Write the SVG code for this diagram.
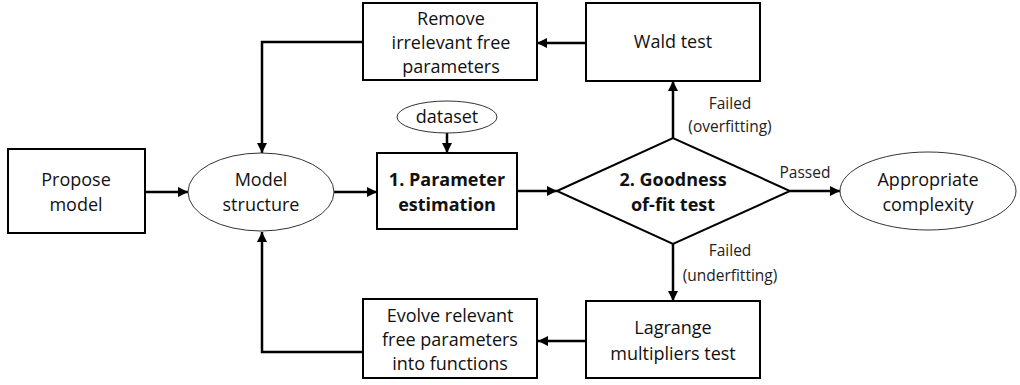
<svg xmlns="http://www.w3.org/2000/svg" width="1020" height="385" viewBox="0 0 1020 385">
  <style>
    .box { fill: #fff; stroke: #000; stroke-width: 2; }
    .ell { fill: #fff; stroke: #333; stroke-width: 1; }
    .t { font-family: "Open Sans", "Liberation Sans", Arial, sans-serif; font-size: 18px; fill: #111; text-anchor: middle; }
    .b { font-weight: bold; }
    .lbl { font-family: "Open Sans", "Liberation Sans", Arial, sans-serif; font-size: 15.5px; fill: #222; text-anchor: middle; }
    .c { fill: none; stroke: #000; stroke-width: 2.5; marker-end: url(#ah); }
  </style>
  <defs>
    <marker id="ah" viewBox="0 0 10 10" refX="10" refY="5" markerWidth="4" markerHeight="4" markerUnits="strokeWidth" orient="auto">
      <path d="M0,0 L10,5 L0,10 z" fill="#000"/>
    </marker>
  </defs>

  <g id="connectors">
    <path class="c" d="M145,192 H188"/>
    <path class="c" d="M334,192 H377"/>
    <path class="c" d="M447,133 V153"/>
    <path class="c" d="M517,191 H557"/>
    <path class="c" d="M790,191 H840"/>
    <path class="c" d="M673,138 V81"/>
    <path class="c" d="M673,244 V301"/>
    <path class="c" d="M586,43 H537"/>
    <path class="c" d="M586,341 H538"/>
    <path class="c" d="M363,42 H262 V153"/>
    <path class="c" d="M363,352 H262 V232"/>
  </g>

  <g id="propose">
    <rect class="box" x="8" y="149" width="137" height="84"/>
    <text class="t" x="76" y="186">Propose</text>
    <text class="t" x="76" y="211">model</text>
  </g>

  <g id="model-structure">
    <ellipse class="ell" cx="261" cy="192" rx="73" ry="39"/>
    <text class="t" x="261" y="186">Model</text>
    <text class="t" x="261" y="211">structure</text>
  </g>

  <g id="dataset">
    <ellipse class="ell" cx="447" cy="117" rx="50" ry="16"/>
    <text class="t" x="447" y="123">dataset</text>
  </g>

  <g id="parameter-estimation">
    <rect class="box" x="377" y="153" width="140" height="76"/>
    <text class="t b" x="447" y="186">1. Parameter</text>
    <text class="t b" x="447" y="211">estimation</text>
  </g>

  <g id="goodness-of-fit">
    <polygon class="box" points="557,191 673,138 790,191 673,244"/>
    <text class="t b" x="673" y="186">2. Goodness</text>
    <text class="t b" x="673" y="211">of-fit test</text>
  </g>

  <g id="appropriate">
    <ellipse class="ell" cx="928" cy="191" rx="88" ry="39"/>
    <text class="t" x="928" y="186">Appropriate</text>
    <text class="t" x="928" y="211">complexity</text>
  </g>

  <g id="wald">
    <rect class="box" x="586" y="3" width="174" height="78"/>
    <text class="t" x="673" y="48">Wald test</text>
  </g>

  <g id="remove">
    <rect class="box" x="363" y="3" width="174" height="77"/>
    <text class="t" x="451" y="25">Remove</text>
    <text class="t" x="451" y="49">irrelevant free</text>
    <text class="t" x="451" y="73">parameters</text>
  </g>

  <g id="lagrange">
    <rect class="box" x="586" y="301" width="174" height="77"/>
    <text class="t" x="673" y="334">Lagrange</text>
    <text class="t" x="673" y="360">multipliers test</text>
  </g>

  <g id="evolve">
    <rect class="box" x="363" y="299" width="174" height="79"/>
    <text class="t" x="450" y="322">Evolve relevant</text>
    <text class="t" x="450" y="346">free parameters</text>
    <text class="t" x="450" y="370">into functions</text>
  </g>

  <g id="edge-labels">
    <text class="lbl" x="730" y="109">Failed</text>
    <text class="lbl" x="730" y="132">(overfitting)</text>
    <text class="lbl" x="805" y="178">Passed</text>
    <text class="lbl" x="730" y="256">Failed</text>
    <text class="lbl" x="730" y="281">(underfitting)</text>
  </g>
</svg>
